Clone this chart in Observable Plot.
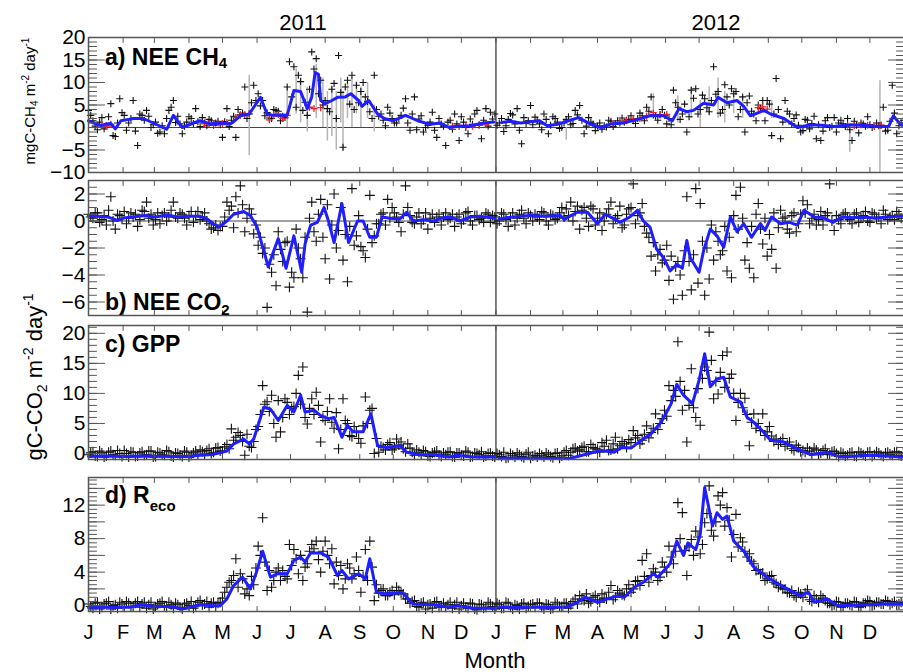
<!DOCTYPE html>
<html><head><meta charset="utf-8">
<script src="https://cdn.jsdelivr.net/npm/d3@7"></script>
<script src="https://cdn.jsdelivr.net/npm/@observablehq/plot@0.6"></script>
<style>
body{margin:0;background:#fff;}
#wrap{position:relative;width:903px;height:672px;overflow:hidden;background:#fff;}
</style>
</head><body><div id="wrap"></div>
<script>
// ---------- data ----------
const years = ["2011", "2012"];
const monthLetters = ["J","F","M","A","M","J","J","A","S","O","N","D"];
const monthStarts = [0,31,59,90,120,151,181,212,243,273,304,334,365,396,425,456,486,517,547,578,609,639,670,700];
const yearStart2012 = 365;
const lastDay = 731;
const sampleStep = 4;   // daily values sampled every 4 days
const offsetA = 0;      // first sample set starts on day 0
const offsetB = 2;      // second sample set starts on day 2

// a) NEE CH4 (mgC-CH4 m-2 day-1)
const ch4PtsA = [
 3.8,1.5,-0.5,2.2,0.4,5.3,-2.0,6.4,2.7,1.0,
 6.0,-4.0,2.7,3.8,0.0,1.2,-1.0,-1.4,3.8,6.0,
 2.5,-1.4,1.2,2.0,4.2,0.2,1.0,1.8,0.5,1.4,
 -2.2,4.2,1.6,-2.2,2.8,9.0,3.0,9.4,7.5,6.0,
 3.3,2.0,3.8,1.5,2.2,14.6,13.5,11.6,3.8,2.7,
 16.8,15.3,10.5,6.0,3.5,9.8,16.0,-4.4,10.5,11.6,
 9.4,8.0,6.8,3.5,11.6,2.5,1.6,4.5,2.0,1.0,
 2.7,6.4,-0.6,6.8,1.9,-1.0,0.5,3.4,-2.2,0.8,
 -4.0,1.6,3.0,-2.9,1.2,-1.4,0.7,3.8,-2.5,4.2,
 3.4,3.0,1.0,-0.9,1.8,2.8,4.2,-3.6,0.9,4.9,
 2.3,0.8,3.0,-1.4,2.4,1.2,0.0,1.8,0.6,3.8,
 4.9,-1.4,2.2,0.8,0.3,-0.4,0.1,1.4,0.8,1.0,
 1.2,1.8,1.5,2.0,2.6,4.5,6.8,2.5,2.9,2.7,
 2.0,8.3,4.5,3.0,-1.0,8.3,8.6,4.0,6.4,3.5,
 13.5,8.0,4.0,6.8,8.6,8.0,4.0,-1.0,7.0,3.0,
 5.0,6.0,6.0,-1.8,10.9,-2.5,6.0,3.0,2.0,0.5,
 -0.7,1.6,0.9,-2.5,-2.9,1.5,0.0,2.2,1.0,0.8,
 2.0,-2.9,0.5,1.0,0.3,0.6,0.2,0.4,4.5,-0.6,
 9.4,-1.4,1.0];
const ch4PtsB = [
 2.7,0.3,1.2,-0.3,2.4,-1.8,1.0,3.3,-0.6,2.0,
 -0.8,3.0,1.6,2.5,0.6,-1.3,0.4,2.0,4.5,1.1,
 0.8,0.3,2.4,0.9,1.3,2.2,0.4,1.5,1.0,0.6,
 1.3,0.2,2.5,4.0,3.2,2.0,5.5,6.0,4.8,2.6,
 2.1,4.0,3.6,2.5,9.0,6.8,4.5,10.2,5.6,8.5,
 13.0,7.5,5.0,4.2,8.5,2.0,7.8,9.0,5.2,4.0,
 5.5,10.0,5.8,2.0,4.0,3.0,0.4,3.2,1.0,2.0,
 4.3,1.0,3.0,-0.5,2.6,0.0,1.2,-0.6,2.0,0.3,
 1.2,-0.4,0.8,2.4,0.0,1.9,3.0,0.6,1.6,0.3,
 1.9,0.5,2.0,0.4,3.1,0.8,-0.6,2.2,1.5,0.6,
 1.6,-0.5,1.8,0.5,2.0,-0.2,1.0,2.4,0.9,2.8,
 1.6,0.3,1.2,-0.7,1.0,0.4,1.6,0.2,1.5,2.1,
 1.6,2.6,0.9,3.2,1.5,3.6,2.8,1.6,4.0,0.8,
 0.6,5.5,1.8,5.2,2.4,6.5,3.0,7.2,4.4,6.0,
 7.4,3.2,9.5,5.0,7.5,2.4,6.8,5.5,3.6,1.5,
 4.2,1.5,5.2,3.0,4.0,1.2,3.6,0.8,2.8,-1.0,
 1.8,-0.3,2.5,0.6,-0.8,2.2,0.3,-1.0,1.6,0.2,
 -0.5,1.4,-1.2,0.8,2.4,0.0,1.0,0.5,-0.8,1.4,
 3.2,0.4,1.6];
const ch4Gapfilled = [[8,0.5],[12,0.6],[16,0.3],[20,0.7],[104,0.8],[108,0.9],[112,0.8],[116,1.0],[120,0.9],[124,1.1],
 [132,2.2],[136,2.7],[140,2.9],[144,3.1],[162,1.7],[166,2.6],[170,2.9],[174,2.0],[178,2.7],[198,4.5],[202,4.2],[208,4.4],
 [326,0.3],[332,0.2],[338,0.4],[344,0.3],[350,0.5],[356,0.6],[470,0.9],[476,1.2],[482,1.5],[488,1.9],[494,2.0],[500,2.5],
 [506,3.3],[512,2.8],[518,2.9],[600,4.4],[604,4.6],[608,4.1],[680,0.5],[686,0.4],[692,0.6],[698,0.5],[704,0.3],[710,0.5]];
const ch4Err = [[144,-6.2,11.6],[178,0,9],[186,3,13],[190,1,11],[196,-1,9],[204,2,14],[210,0,11],[214,-3,8],[218,-2,9],
 [222,-5,8],[226,1,11],[228,-5.2,8],[232,2,10],[236,0,11],[240,3,10],[244,0,9],[250,2,10],[256,-1,5],[428,-2.8,0],
 [506,4,7.5],[528,1,7],[540,2,9],[548,0,6],[556,3,9],[564,2,11],[570,1,8],[578,3,8],[586,2,7],[612,2,6],[682,-5.5,0.8],[709,-10,10.4]];
const ch4Line = [[0,1.5],[5,1.0],[11,0.4],[16,0.8],[20,0.9],[24,-0.3],[29,1.5],[34,1.7],[40,2.0],[49,2.0],
 [58,1.0],[67,0.0],[70,-0.4],[76,2.7],[84,0.0],[94,1.0],[100,1.5],[109,0.8],[118,1.0],[127,0.8],
 [130,1.3],[136,2.6],[144,3.0],[154,6.7],[160,3.0],[166,2.7],[172,2.8],[178,2.7],[184,8.2],[190,8.0],
 [196,4.2],[200,6.8],[203,12.2],[206,11.8],[208,6.0],[212,5.3],[218,6.0],[223,6.7],[230,6.8],[235,7.5],
 [242,6.0],[245,4.7],[251,6.0],[259,3.0],[265,2.0],[273,1.5],[284,2.7],[295,1.5],[306,0.7],[315,1.0],
 [323,0.0],[330,0.3],[342,0.4],[354,1.0],[363,1.2],[370,1.1],[378,1.4],[387,1.0],[396,1.3],[404,1.5],
 [411,0.4],[420,0.7],[430,1.5],[439,2.2],[450,0.7],[459,0.0],[468,0.8],[479,1.0],[492,1.8],[503,2.6],
 [515,2.6],[523,1.5],[529,4.2],[536,3.5],[542,3.8],[551,5.4],[560,5.0],[564,6.7],[572,5.5],[581,6.0],
 [587,4.7],[593,2.6],[605,3.8],[611,3.0],[623,2.0],[635,0.0],[647,0.6],[657,0.5],[667,0.2],[683,0.6],
 [698,0.4],[712,0.2],[717,0.3],[721,2.6],[727,0.8],[730,0.5]];

// b) NEE CO2 (gC-CO2 m-2 day-1)
const co2PtsA = [
 0.5,0.2,0.6,0.1,-0.3,1.8,-0.6,0.4,0.7,0.2,
 0.3,-0.4,0.8,1.4,0.5,0.1,-0.2,0.6,0.3,1.4,
 0.2,0.5,-0.3,0.7,0.4,0.1,0.6,-0.2,-0.5,-0.7,
 -0.4,1.4,1.1,1.8,2.6,-0.8,0.9,-0.95,-1.8,-2.4,
 -6.4,-3.8,-4.8,-2.1,-1.6,-4.9,-4.2,-2.0,-4.2,-6.75,
 1.4,-1.5,1.6,-2.8,-4.3,2.0,-0.7,-2.9,-4.5,2.4,
 -1.1,-1.9,-2.7,1.9,-1.1,-0.2,0.6,1.6,1.0,0.3,
 -0.8,2.6,0.4,-0.2,0.6,0.1,-0.6,0.5,0.3,-0.3,
 0.6,0.2,-0.4,0.5,0.1,0.7,-0.3,0.4,0.2,0.6,
 -0.1,0.3,0.0,0.5,-0.4,0.6,0.2,0.8,-0.2,0.4,
 0.5,0.1,0.6,-0.3,0.4,0.2,1.0,0.9,1.4,0.7,
 -0.6,1.0,-0.4,0.9,0.2,-0.7,0.5,1.4,0.2,1.1,
 -0.3,0.9,2.75,0.4,1.3,-0.9,-2.6,-3.7,-2.1,-2.9,
 -4.4,-5.8,-3.0,-5.5,1.8,-5.1,2.4,1.3,-5.5,-4.3,
 -2.9,-1.5,-2.2,-3.7,-4.2,1.9,2.5,-2.9,-3.5,-4.2,
 1.3,-1.7,-2.6,-2.1,-3.5,0.8,0.3,-0.9,0.6,-0.2,
 1.5,1.2,0.2,-0.3,0.7,0.4,2.75,-0.7,0.1,0.5,
 0.3,-0.2,0.6,0.2,0.7,-0.1,0.5,0.3,0.8,0.1,
 0.4,0.7,0.2];
const co2PtsB = [
 0.3,0.6,-0.1,0.4,0.8,0.0,0.5,0.2,-0.2,0.6,
 0.5,0.1,0.7,0.2,-0.3,0.6,0.4,0.0,0.8,0.3,
 0.6,0.2,0.4,-0.1,0.7,0.3,0.0,-0.6,-0.3,-0.4,
 0.3,0.8,-0.5,0.6,1.2,0.2,0.5,-0.3,-1.2,-2.0,
 -3.2,-2.5,-0.8,-3.0,-1.5,-3.8,-0.6,-2.8,-1.2,0.2,
 -0.8,0.5,-1.2,1.2,-0.3,-2.0,1.0,-1.0,-0.4,-1.8,
 0.4,-2.2,-0.6,-1.6,-0.2,0.5,-0.3,0.2,0.6,-0.1,
 0.5,1.0,-0.1,0.3,-0.2,0.6,0.2,-0.1,0.5,0.3,
 0.1,0.5,0.3,-0.2,0.6,0.0,0.4,0.1,-0.1,0.5,
 0.4,-0.2,0.6,0.1,0.3,-0.3,0.5,0.2,0.6,0.0,
 0.3,0.7,0.0,0.5,0.1,0.6,0.3,0.4,0.0,1.1,
 0.8,0.2,1.1,-0.3,0.6,0.0,0.9,-0.2,0.4,-0.5,
 0.5,1.0,-0.2,0.6,-0.4,-1.2,-1.6,-2.5,-3.1,-1.8,
 -2.6,-3.4,-4.0,-2.2,-3.0,-2.5,-4.6,-1.5,-2.0,-0.3,
 -0.8,-2.5,-0.4,-1.2,0.4,-0.6,0.2,-1.6,-0.4,0.5,
 -0.6,0.2,-1.0,0.6,-0.5,0.2,-0.6,0.4,-0.8,0.5,
 0.6,-0.2,0.5,0.1,-0.3,0.6,0.0,0.4,-0.2,0.6,
 0.1,0.5,-0.1,0.4,0.0,0.6,0.2,-0.2,0.5,0.3,
 0.1,0.5,0.0];
const co2Line = [[0,0.4],[8,0.35],[17,0.3],[26,0.05],[33,0.25],[40,0.3],[50,0.4],[60,0.3],[70,0.45],[80,0.3],
 [90,0.35],[100,0.35],[106,0.15],[112,-0.2],[117,-0.45],[124,0.0],[130,0.5],[139,0.7],[145,0.4],[151,-0.45],
 [157,-2.2],[161,-3.4],[166,-2.2],[170,-1.3],[177,-3.5],[184,-1.1],[191,-3.8],[194,-1.7],[199,-0.3],[205,-0.1],
 [211,1.0],[215,0.0],[220,-1.6],[227,1.3],[233,-1.6],[241,0.0],[246,0.0],[252,-1.2],[258,-1.2],[263,0.3],
 [270,0.2],[279,0.15],[285,0.65],[291,0.0],[300,0.1],[309,0.0],[316,0.2],[324,0.3],[333,0.0],[342,0.3],
 [351,0.35],[360,0.25],[364,0.2],
 [368,0.15],[380,0.3],[395,0.4],[410,0.35],[423,0.4],[426,0.1],[432,0.4],[438,0.65],[447,0.65],[456,-0.2],
 [463,0.5],[470,0.2],[476,-0.1],[485,0.3],[492,0.8],[497,0.0],[503,-0.45],[509,-2.1],[515,-2.7],[521,-3.7],
 [527,-3.2],[532,-3.5],[536,-1.45],[539,-2.7],[547,-3.8],[551,-2.2],[557,-0.6],[563,-1.1],[569,-1.95],[575,0.3],
 [581,-0.8],[587,-0.2],[594,-1.2],[602,-0.2],[606,-0.7],[612,0.3],[620,-0.2],[628,-0.1],[635,-0.3],[641,0.8],
 [650,0.3],[658,0.25],[667,-0.1],[675,0.3],[683,0.25],[695,0.3],[705,0.2],[715,0.3],[725,0.35],[730,0.4]];

// c) GPP
const gppPtsA = [
 -0.2,0.3,-0.5,0.1,-0.4,0.4,-0.3,0.0,0.5,-0.6,
 0.2,-0.4,0.3,-0.2,0.4,-0.5,0.1,-0.3,0.3,-0.6,
 0.0,-0.5,0.2,-0.3,0.4,0.6,-0.1,0.8,0.2,1.0,
 0.4,1.5,4.1,2.7,3.0,-0.3,1.2,2.0,4.5,11.3,
 8.6,9.7,2.7,3.6,9.1,6.5,7.8,13.0,14.4,4.9,
 9.1,10.2,1.9,5.5,9.1,4.2,0.8,9.1,5.0,2.8,
 3.6,1.7,9.4,7.2,0.0,0.2,1.0,1.5,0.6,2.4,
 1.9,0.3,0.9,-0.3,0.2,0.5,-0.4,0.1,0.4,-0.5,
 -0.2,0.3,-0.6,0.1,-0.4,0.2,-0.5,0.0,0.3,-0.4,
 0.1,-0.6,-0.2,0.2,-0.7,-0.3,0.1,-0.5,-0.1,-0.8,
 -0.3,0.0,-0.6,-0.2,-0.7,0.1,-0.4,0.5,0.2,0.9,
 0.6,1.2,0.3,1.0,0.7,1.8,2.2,0.6,2.7,1.3,
 1.6,2.3,3.8,3.0,2.2,4.6,3.5,6.6,5.0,7.2,
 11.3,10.5,18.6,7.2,1.9,14.1,6.0,4.7,14.4,20.2,
 9.1,9.9,16.3,16.9,13.2,5.5,10.0,9.2,1.3,6.6,
 5.0,6.6,3.6,2.9,2.4,2.0,1.2,1.9,0.5,1.0,
 0.5,0.9,-0.1,0.6,0.1,0.8,-0.2,0.4,-0.5,0.0,
 -0.3,0.2,-0.5,0.1,-0.4,0.3,-0.2,0.1,-0.5,0.2,
 -0.3,0.3,-0.4];
const gppPtsB = [
 0.1,-0.4,0.4,-0.6,0.2,-0.2,0.5,-0.5,0.0,0.3,
 -0.5,0.1,-0.3,0.4,-0.6,0.2,-0.2,0.5,-0.4,0.1,
 -0.3,0.4,-0.6,0.1,-0.2,0.3,0.5,0.0,0.9,0.4,
 1.1,0.8,2.2,3.5,2.0,3.2,1.0,4.0,6.5,8.2,
 7.0,5.0,8.8,6.0,8.5,7.5,10.0,8.2,6.0,7.5,
 6.5,8.0,6.0,7.0,5.2,6.8,4.0,5.5,3.0,4.5,
 2.5,4.6,5.0,7.5,2.5,1.2,0.6,1.8,0.9,1.4,
 0.8,1.6,0.2,0.6,-0.2,0.3,-0.5,0.2,-0.3,0.1,
 0.2,-0.5,0.1,-0.3,0.4,-0.6,0.1,-0.2,-0.6,0.0,
 -0.4,0.0,-0.5,-0.8,0.0,-0.6,-0.2,-0.7,0.2,-0.4,
 -0.6,-0.3,0.1,-0.5,0.0,-0.8,0.2,-0.3,0.8,0.4,
 1.0,0.3,1.5,0.8,0.2,1.2,0.5,1.6,0.8,2.0,
 1.0,1.8,2.6,1.6,3.2,2.6,4.2,4.0,5.8,6.2,
 8.8,9.5,12.0,10.5,8.0,7.6,10.8,12.5,13.8,15.5,
 12.0,13.5,11.0,12.5,10.0,8.5,7.6,6.5,5.2,4.2,
 3.8,3.0,4.5,2.0,1.5,2.5,1.5,0.8,1.4,0.3,
 0.2,0.4,0.9,-0.2,0.5,-0.1,0.3,0.0,0.2,-0.4,
 0.1,-0.4,0.3,-0.2,0.2,-0.5,0.3,-0.3,0.1,-0.1,
 0.2,-0.3,0.1];
const gppLine = [[0,-0.5],[15,-0.4],[30,-0.5],[49,-0.4],[60,-0.45],[75,-0.5],[89,-0.5],[100,-0.3],[112,-0.15],[124,0.4],
 [130,1.6],[139,2.4],[144,1.6],[148,2.4],[157,7.7],[163,7.4],[170,5.5],[178,8.0],[184,6.9],[190,9.7],
 [194,6.9],[202,7.2],[208,6.3],[215,5.8],[220,6.0],[227,2.7],[232,4.7],[237,3.6],[246,3.6],[253,6.6],
 [259,1.3],[267,1.0],[279,1.3],[285,0.2],[297,-0.2],[309,-0.2],[323,-0.6],[330,-0.3],[345,-0.6],[364,-0.6],
 [368,-0.8],[390,-0.8],[410,-0.85],[432,-0.8],[444,-0.2],[459,0.5],[471,0.2],[477,1.0],[486,0.9],[493,1.9],
 [504,3.3],[513,5.2],[522,8.3],[527,11.5],[533,9.7],[541,8.3],[547,12.2],[552,16.6],[557,11.1],[563,12.4],
 [569,12.7],[575,9.4],[584,8.6],[590,6.0],[594,5.5],[602,4.1],[611,2.2],[623,1.9],[632,1.0],[647,-0.2],
 [662,0.2],[674,-0.6],[701,-0.3],[730,-0.6]];

// d) Reco
const recoPtsA = [
 0.2,-0.3,0.4,-0.2,0.3,-0.4,0.1,0.4,-0.2,0.3,
 -0.1,0.5,0.2,-0.3,0.4,-0.2,0.3,0.0,0.4,-0.3,
 0.1,-0.4,0.3,0.5,0.0,0.6,0.2,-0.2,0.4,0.3,
 0.9,2.2,3.0,5.6,3.8,1.4,1.2,2.5,7.1,10.5,
 1.8,2.2,4.0,3.0,3.5,7.3,6.7,3.8,3.0,5.0,
 7.3,7.7,4.0,7.7,5.0,2.6,3.6,2.0,5.0,3.2,
 5.8,1.6,6.7,7.7,0.6,1.5,2.0,1.2,1.8,2.2,
 1.5,0.8,0.3,0.6,-0.2,0.4,0.1,-0.3,0.5,0.0,
 -0.2,0.4,0.1,-0.4,0.3,-0.3,0.2,-0.5,0.1,-0.2,
 0.2,-0.4,0.1,-0.3,0.3,-0.4,0.0,0.2,-0.3,0.1,
 -0.2,0.3,-0.4,0.1,-0.3,0.2,-0.1,0.3,0.1,0.8,
 1.2,0.6,0.3,1.0,0.7,1.4,0.8,2.4,1.0,1.5,
 1.2,2.5,2.0,3.0,5.4,6.2,3.6,4.0,3.4,4.6,
 7.1,5.0,12.3,11.1,3.6,7.9,8.9,6.2,9.9,14.3,
 8.3,13.1,13.5,11.7,5.8,10.9,8.1,6.5,6.2,5.0,
 4.3,3.9,3.2,3.6,2.6,2.4,2.0,1.5,1.2,1.6,
 1.0,1.9,0.5,0.8,1.2,0.6,0.3,0.1,0.4,-0.1,
 0.3,0.0,0.4,-0.1,0.3,0.5,0.1,0.4,0.2,0.5,
 0.3,0.1,0.4];
const recoPtsB = [
 -0.1,0.3,-0.4,0.2,0.5,0.0,-0.3,0.2,0.5,-0.1,
 0.3,-0.2,0.4,0.1,-0.4,0.2,0.5,-0.2,0.1,0.3,
 -0.2,0.2,0.0,-0.3,0.4,0.1,0.5,0.3,-0.1,0.4,
 1.6,2.8,3.6,2.2,3.2,2.0,3.5,4.5,6.0,5.2,
 4.2,3.0,4.5,4.2,3.2,4.8,5.6,6.0,4.6,6.5,
 6.8,5.5,6.5,6.0,6.8,5.2,4.8,3.2,4.5,3.8,
 4.2,3.5,3.0,4.6,2.5,1.8,1.2,1.6,1.3,1.8,
 1.4,0.8,0.5,-0.1,0.3,-0.4,0.2,0.4,-0.2,0.3,
 0.1,-0.3,0.4,0.0,-0.2,0.3,-0.4,0.2,-0.3,0.4,
 -0.1,0.3,-0.3,0.4,-0.2,0.1,-0.4,0.3,-0.1,0.2,
 0.3,-0.2,0.2,-0.4,0.4,-0.1,0.3,-0.3,0.5,0.2,
 0.8,1.4,0.5,1.2,0.4,0.9,1.6,0.7,1.8,1.3,
 2.0,1.6,2.9,2.4,3.5,2.8,4.4,3.0,5.2,4.0,
 5.8,6.5,8.0,6.6,7.0,6.0,8.2,7.3,11.0,9.0,
 10.0,12.0,9.5,10.2,8.5,7.0,7.6,5.8,5.3,4.2,
 3.8,3.0,3.5,2.8,2.2,2.0,1.6,1.8,1.0,1.4,
 1.5,0.7,1.2,0.4,0.9,0.3,0.0,0.5,-0.2,0.3,
 0.1,0.5,-0.2,0.3,0.6,0.0,0.4,0.2,0.6,0.1,
 0.5,0.2,0.4];
const recoLine = [[0,-0.2],[37,-0.2],[47,0.1],[60,-0.1],[73,-0.1],[84,-0.4],[100,0.1],[112,0.0],[118,0.0],[124,0.8],
 [130,2.4],[138,3.4],[145,2.0],[150,3.8],[156,6.5],[163,3.4],[169,3.8],[178,3.8],[184,5.4],[190,5.8],
 [194,5.2],[199,6.3],[208,6.3],[215,5.8],[223,3.6],[227,4.2],[233,3.2],[242,3.8],[248,3.2],[252,5.6],
 [258,1.6],[267,1.4],[281,1.6],[291,0.2],[309,0.1],[323,-0.2],[330,0.0],[345,-0.3],[364,-0.3],
 [368,-0.2],[400,-0.2],[428,-0.2],[438,0.4],[445,1.0],[456,0.4],[465,0.8],[474,1.2],[480,1.0],[489,2.2],
 [497,2.8],[506,3.8],[510,3.4],[521,5.0],[527,7.7],[533,6.0],[537,7.5],[544,6.7],[548,8.5],[552,14.1],
 [559,9.5],[563,11.1],[568,10.3],[572,10.7],[578,7.7],[587,6.5],[596,4.6],[608,3.4],[623,2.2],[638,1.2],
 [645,1.6],[650,0.4],[662,0.8],[671,0.0],[698,0.1],[712,0.2],[730,0.2]];

// axis ticks
const ch4Labels = [-10,-5,0,5,10,15,20];
const co2Labels = [-6,-4,-2,0,2];
const gppLabels = [0,5,10,15,20];
const recoLabels = [0,4,8,12];
const recoMajor = [0,2,4,6,8,10,12,14];

// ---------- drawing ----------
const FONT = "'Liberation Sans', Arial, Helvetica, sans-serif";
const wrap = document.getElementById("wrap");
const plusSymbol = {draw(ctx, size){const r = Math.sqrt(size/Math.PI); ctx.moveTo(-r,0); ctx.lineTo(r,0); ctx.moveTo(0,-r); ctx.lineTo(0,r);}};
const tickShape = {draw(ctx, l){ctx.moveTo(0,0); ctx.lineTo(0,-l);}};
const toPts = (arr, off) => arr.map((v,i) => ({day: off + i*sampleStep, v}));
const toLine = arr => arr.map(([day,v]) => ({day, v, yr: day < yearStart2012 ? years[0] : years[1]}));

function yTicks(vals, len){
  const o = {y: d => d, length: len, anchor: "start", shape: tickShape, stroke: "#555", strokeWidth: 1};
  return [Plot.vector(vals, {...o, frameAnchor: "left", rotate: 90}),
          Plot.vector(vals, {...o, frameAnchor: "right", rotate: -90})];
}
function xTicks(vals, len){
  const o = {x: d => d, length: len, anchor: "start", shape: tickShape, stroke: "#555", strokeWidth: 1};
  return [Plot.vector(vals, {...o, frameAnchor: "bottom", rotate: 0}),
          Plot.vector(vals, {...o, frameAnchor: "top", rotate: 180})];
}

function panel(o){
  const mt = 20, mb = o.mb || 20, h = o.bottom - o.top;
  const pts = toPts(o.ptsA, offsetA).concat(toPts(o.ptsB, offsetB));
  const marks = [];
  if (o.zero) marks.push(Plot.ruleY([0], {stroke: "#444", strokeWidth: 1}));
  marks.push(Plot.ruleX([yearStart2012], {stroke: "#555", strokeWidth: 1.5}));
  if (o.err) marks.push(Plot.ruleX(o.err, {x: d => d[0], y1: d => d[1], y2: d => d[2], stroke: "#b4b4b4", strokeWidth: 1.5}));
  marks.push(Plot.dot(pts, {x: "day", y: "v", symbol: plusSymbol, r: o.r, stroke: "#111", fill: "none", strokeWidth: 1.1}));
  if (o.red) marks.push(Plot.dot(o.red, {x: d => d[0], y: d => d[1], symbol: plusSymbol, r: o.r, stroke: "#e8202a", fill: "none", strokeWidth: 1.3}));
  marks.push(Plot.line(toLine(o.line), {x: "day", y: "v", z: "yr", stroke: "#1e1eff", strokeWidth: 3}));
  marks.push(...yTicks(o.minor, 8), ...yTicks(o.major, 16), ...xTicks(monthStarts, 5));
  marks.push(Plot.axisY(o.labels, {anchor: "left", tickSize: 0, tickPadding: 3, label: null, fontSize: 21}));
  if (o.months) marks.push(Plot.axisX(monthStarts, {anchor: "bottom", tickSize: 0, tickPadding: 13, label: null, fontSize: 20,
    tickFormat: d => monthLetters[monthStarts.indexOf(d) % 12]}));
  marks.push(Plot.frame({stroke: "#555", strokeWidth: 1.5}));
  const svg = Plot.plot({
    width: 904, height: h + mt + mb, marginLeft: 88, marginRight: 0, marginTop: mt, marginBottom: mb,
    x: {domain: [0, lastDay], axis: null}, y: {domain: o.domain, axis: null},
    style: {fontFamily: FONT, fontSize: "20px", background: "transparent", overflow: "visible", maxWidth: "none", color: "#000"},
    marks
  });
  svg.style.position = "absolute"; svg.style.left = "0px"; svg.style.top = (o.top - mt) + "px";
  wrap.appendChild(svg);
}

panel({top: 37, bottom: 172, domain: [-10, 20], ptsA: ch4PtsA, ptsB: ch4PtsB, r: 3.5, red: ch4Gapfilled, err: ch4Err, line: ch4Line, zero: true,
  labels: ch4Labels, major: ch4Labels, minor: d3.range(-10, 20.01, 1)});
panel({top: 180, bottom: 315, domain: [-7, 3], ptsA: co2PtsA, ptsB: co2PtsB, r: 5, line: co2Line, zero: true,
  labels: co2Labels, major: co2Labels, minor: d3.range(-7, 3.01, 0.5)});
panel({top: 325, bottom: 459, domain: [-1, 21.3], ptsA: gppPtsA, ptsB: gppPtsB, r: 5, line: gppLine,
  labels: gppLabels, major: gppLabels, minor: d3.range(-1, 21.01, 1)});
panel({top: 477, bottom: 611, domain: [-0.7, 15.3], ptsA: recoPtsA, ptsB: recoPtsB, r: 5, line: recoLine, months: true, mb: 60,
  labels: recoLabels, major: recoMajor, minor: d3.range(-0.5, 15.01, 0.5)});

// ---------- text overlay ----------
const ov = d3.select(wrap).append("svg").attr("width", 903).attr("height", 672)
  .style("position", "absolute").style("left", "0px").style("top", "0px")
  .style("font-family", FONT).style("white-space", "pre").style("pointer-events", "none");

function rich(parent, parts, size, subSize, subDy, supDy){
  const t = parent.append("text").attr("font-size", size).attr("fill", "#000");
  let shift = 0;
  for (const [s, k] of parts){
    const target = k === "sub" ? subDy : k === "sup" ? supDy : 0;
    t.append("tspan").attr("dy", target - shift).attr("font-size", k === "n" ? size : subSize).text(s);
    shift = target;
  }
  return t;
}
ov.append("text").attr("x", 303).attr("y", 30).attr("text-anchor", "middle").attr("font-size", 22).text(years[0]);
ov.append("text").attr("x", 716).attr("y", 30).attr("text-anchor", "middle").attr("font-size", 22).text(years[1]);
rich(ov, [["a) NEE CH","n"],["4","sub"]], 23, 15, 3, 0).attr("x", 105).attr("y", 65).attr("font-weight", "bold");
rich(ov, [["b) NEE CO","n"],["2","sub"]], 23, 15, 5, 0).attr("x", 105).attr("y", 310).attr("font-weight", "bold");
rich(ov, [["c) GPP","n"]], 23, 15, 0, 0).attr("x", 105).attr("y", 352).attr("font-weight", "bold");
rich(ov, [["d) R","n"],["eco","sub"]], 23, 15, 8, 0).attr("x", 105).attr("y", 503).attr("font-weight", "bold");
rich(ov, [["mgC-CH","n"],["4","sub"],[" m","n"],["-2","sup"],[" day","n"],["-1","sup"]], 15, 10, 3, -6)
  .attr("transform", "translate(35,101) rotate(-90)").attr("text-anchor", "middle");
rich(ov, [["gC-CO","n"],["2","sub"],[" m","n"],["-2","sup"],[" day","n"],["-1","sup"]], 22, 14, 5, -9)
  .attr("transform", "translate(42,377) rotate(-90)").attr("text-anchor", "middle");
ov.append("text").attr("x", 495).attr("y", 668).attr("text-anchor", "middle").attr("font-size", 22).text("Month");
</script></body></html>
